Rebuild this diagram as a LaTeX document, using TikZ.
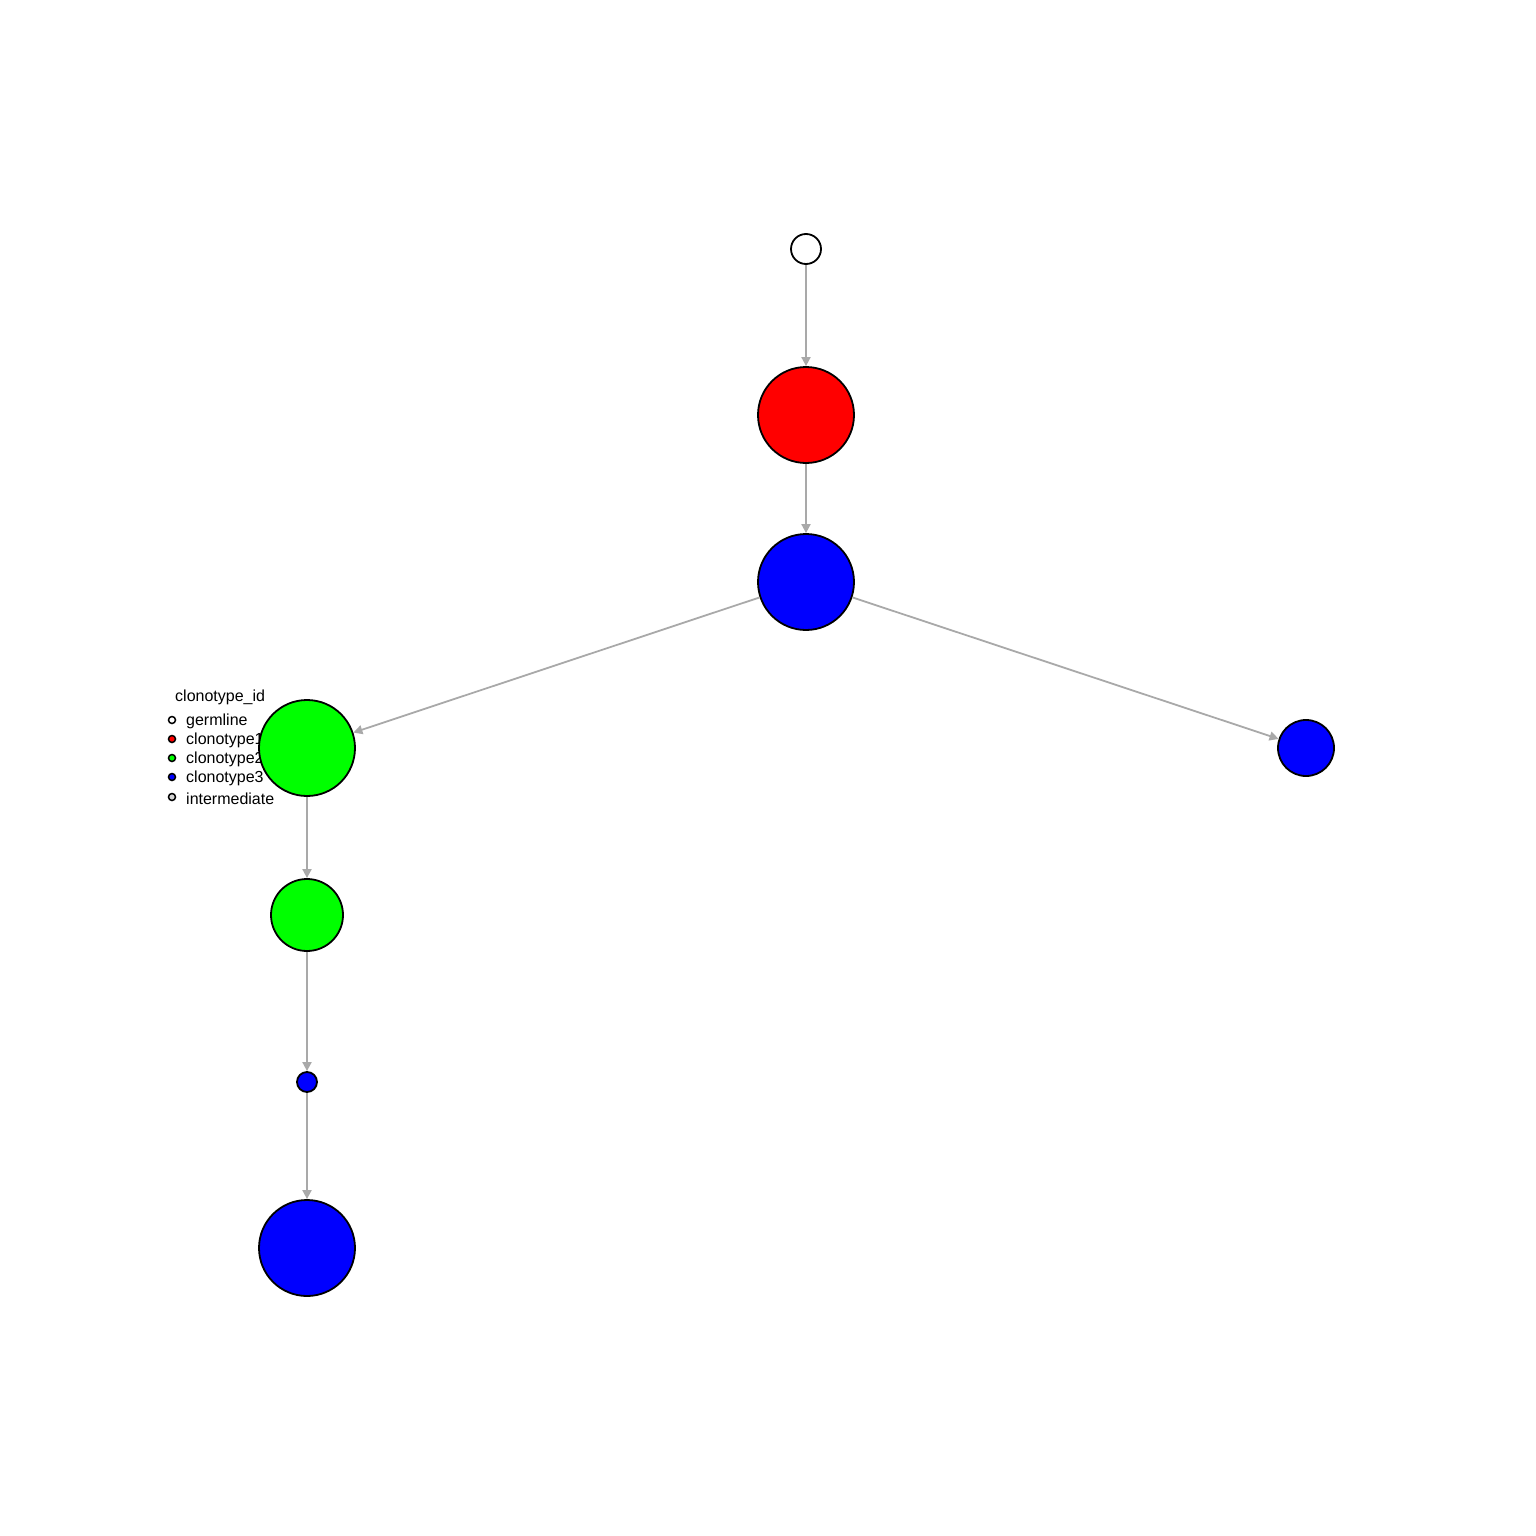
\documentclass[tikz,border=0pt]{standalone}
\usepackage{fontspec}
\setmainfont{Liberation Sans}
\usetikzlibrary{arrows.meta}
\definecolor{edgegray}{HTML}{A9A9A9}
\definecolor{cgreen}{HTML}{00FF00}
\definecolor{cblue}{HTML}{0000FF}
\definecolor{cred}{HTML}{FF0000}
\definecolor{cinter}{HTML}{D3D3D3}
\begin{document}
\begin{tikzpicture}[x=1pt,y=-1pt,
  vtx/.style={circle,draw=black,line width=1.8pt,inner sep=0pt,minimum size=#1},
  edge/.style={draw=edgegray,line width=1.8pt,-{Stealth[length=9pt,width=9pt,inset=0pt]}},
  legdot/.style={circle,draw=black,line width=1.5pt,inner sep=0pt,minimum size=7pt},
  legtxt/.style={anchor=west,inner sep=0pt,font=\fontsize{16}{19}\selectfont}]
\useasboundingbox (0,0) rectangle (1536,1536);
% legend
\node[legtxt] (legtitle) at (175,697.5) {clonotype\_id};
\node[legdot,fill=white] (d1) at (172,720) {};
\node[legdot,fill=cred] (d2) at (172,739) {};
\node[legdot,fill=cgreen] (d3) at (172,758) {};
\node[legdot,fill=cblue] (d4) at (172,777) {};
\node[legdot,fill=cinter] (d5) at (172,797) {};
\node[legtxt] (t1) at (186,721.5) {germline};
\node[legtxt] (t2) at (186,740.5) {clonotype1};
\node[legtxt] (t3) at (186,759.5) {clonotype2};
\node[legtxt] (t4) at (186,778.5) {clonotype3};
\node[legtxt] (t5) at (186,798.5) {intermediate};
% vertices
\node[vtx=30pt,fill=white] (g) at (806,249) {};
\node[vtx=96pt,fill=cred] (r) at (806,415) {};
\node[vtx=96pt,fill=cblue] (b1) at (806,582) {};
\node[vtx=96pt,fill=cgreen] (gr1) at (307,748) {};
\node[vtx=56pt,fill=cblue] (b2) at (1306,748) {};
\node[vtx=72pt,fill=cgreen] (gr2) at (307,915) {};
\node[vtx=20pt,fill=cblue] (b3) at (307,1082) {};
\node[vtx=96pt,fill=cblue] (b4) at (307,1248) {};
% edges
\draw[edge] (g) -- (r);
\draw[edge] (r) -- (b1);
\draw[edge] (b1) -- (gr1);
\draw[edge] (b1) -- (b2);
\draw[edge] (gr1) -- (gr2);
\draw[edge] (gr2) -- (b3);
\draw[edge] (b3) -- (b4);
\end{tikzpicture}
\end{document}
